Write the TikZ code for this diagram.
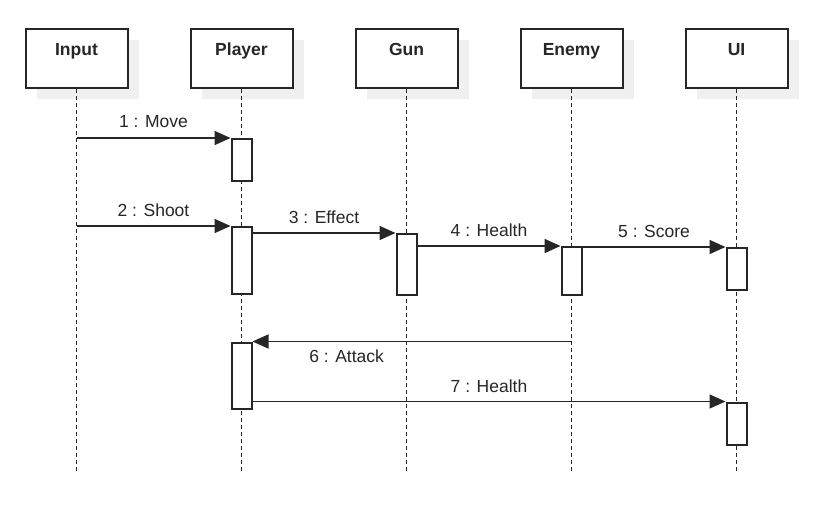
\documentclass[tikz,border=0pt]{standalone}
\usepackage{fontspec}
\setmainfont{Liberation Sans}
\usepackage{tikz}
\usetikzlibrary{arrows.meta, shadows}
\definecolor{ink}{HTML}{262626}

\begin{document}
\begin{tikzpicture}[x=1pt, y=-1pt,
    every node/.style={font=\fontsize{17.5}{21}\selectfont, text=ink},
    head/.style={rectangle, draw=ink, line width=2pt, fill=white,
        minimum width=102pt, minimum height=59pt, inner sep=0pt,
        text height=26pt, text depth=33pt,
        font=\fontsize{17.5}{21}\selectfont\bfseries,
        drop shadow={shadow xshift=11pt, shadow yshift=-11pt, fill=black!6, opacity=1}},
    lifeline/.style={draw=ink, line width=1.5pt, dash pattern=on 4pt off 3pt},
    bar/.style={rectangle, draw=ink, line width=2pt, fill=white,
        minimum width=20pt, inner sep=0pt, anchor=north},
    msg/.style={draw=ink, line width=1.6pt, -{Triangle[length=16pt, width=14pt]}},
    lbl/.style={inner sep=0pt} ]
    \useasboundingbox (0,0) rectangle (835,522);
    \coordinate (bottom) at (0,472);
    % participants
    \node[head] (input)  at (76.5,58.5)  {Input};
    \node[head] (player) at (241.5,58.5) {Player};
    \node[head] (gun)    at (406.5,58.5) {Gun};
    \node[head] (enemy)  at (571.5,58.5) {Enemy};
    \node[head] (ui)     at (736.5,58.5) {UI};
    \draw[lifeline] (input)  -- (input |- bottom);
    \draw[lifeline] (player) -- (player |- bottom);
    \draw[lifeline] (gun)    -- (gun |- bottom);
    \draw[lifeline] (enemy)  -- (enemy |- bottom);
    \draw[lifeline] (ui)     -- (ui |- bottom);
    % activations
    \node[bar, minimum height=42pt]   (move)     at (player |- 0,138)   {};
    \node[bar, minimum height=67pt]   (shoot)    at (player |- 0,226)   {};
    \node[bar, minimum height=61pt]   (effect)   at (gun |- 0,233)      {};
    \node[bar, minimum height=48pt]   (hit)      at (enemy |- 0,246)    {};
    \node[bar, minimum height=42pt]   (score)    at (ui |- 0,247)       {};
    \node[bar, minimum height=66pt]   (attacked) at (player |- 0,341.5) {};
    \node[bar, minimum height=42.5pt] (health)   at (ui |- 0,401.5)     {};
    % messages
    \draw[msg] (input |- move.north west) -- (move.north west)
        node[lbl, midway, above=9.5pt] {1 : Move};
    \draw[msg] (input |- shoot.north west) -- (shoot.north west)
        node[lbl, midway, above=8.5pt] {2 : Shoot};
    \draw[msg] (effect.north west -| shoot.east) -- (effect.north west)
        node[lbl, midway, above=8.5pt] {3 : Effect};
    \draw[msg] (hit.north west -| effect.east) -- (hit.north west)
        node[lbl, midway, above=9pt] {4 : Health};
    \draw[msg] (score.north west -| hit.east) -- (score.north west)
        node[lbl, midway, above=9pt] {5 : Score};
    \draw[msg] (attacked.north east -| enemy) -- (attacked.north east)
        node[lbl, pos=0.705, below=7.5pt] {6 : Attack};
    \draw[msg] (health.north west -| attacked.east) -- (health.north west)
        node[lbl, midway, above=8.5pt] {7 : Health};
\end{tikzpicture}
\end{document}
